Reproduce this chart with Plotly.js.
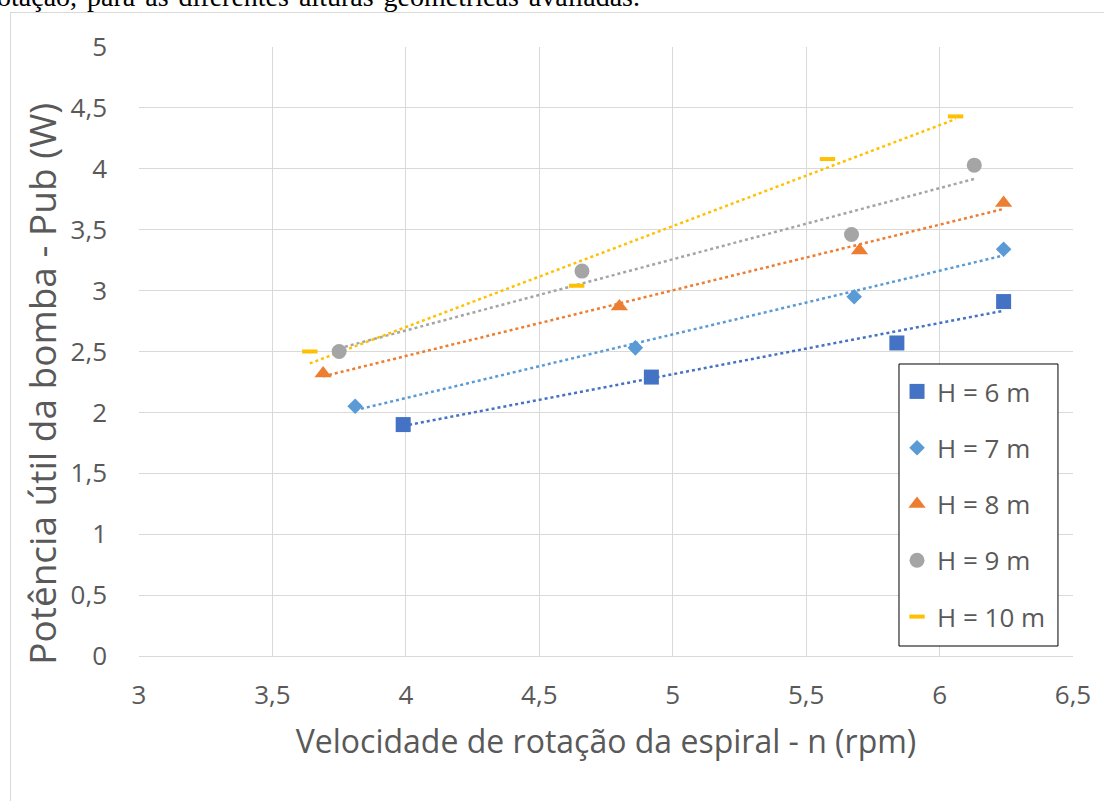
<!DOCTYPE html>
<html><head><meta charset="utf-8">
<script src="https://cdn.plot.ly/plotly-3.0.1.min.js"></script>
<style>
html,body{margin:0;padding:0;overflow:hidden;background:#fff;width:1104px;height:801px;}
#cap{position:absolute;left:0;top:0;width:1104px;height:12px;overflow:hidden;z-index:2;}
#frame{position:absolute;left:10px;top:12px;width:1100px;height:800px;border:1px solid #d9d9d9;}
#chart{width:1100px;height:800px;}
</style></head><body>
<div id="frame"><div id="chart"></div></div>
<svg id="cap" xmlns="http://www.w3.org/2000/svg" width="1104" height="12">
  <text id="capText" x="0" y="5.5" font-family="Liberation Serif, Times New Roman, serif" font-size="28" fill="#000"></text>
</svg>
<script>
const captionText = 'rotação, para as diferentes alturas geométricas avaliadas.';
const xTitle = 'Velocidade de rotação da espiral - n (rpm)';
const yTitle = 'Potência útil da bomba - Pub (W)';
const seriesNames = ['H = 6 m','H = 7 m','H = 8 m','H = 9 m','H = 10 m'];
const rpmH6  = [3.99, 4.92, 5.84, 6.24];
const pubH6  = [1.90, 2.29, 2.57, 2.91];
const rpmH7  = [3.81, 4.86, 5.68, 6.24];
const pubH7  = [2.05, 2.53, 2.95, 3.34];
const rpmH8  = [3.69, 4.80, 5.70, 6.24];
const pubH8  = [2.32, 2.87, 3.33, 3.72];
const rpmH9  = [3.75, 4.66, 5.67, 6.13];
const pubH9  = [2.50, 3.16, 3.46, 4.03];
const rpmH10 = [3.64, 4.64, 5.58, 6.06];
const pubH10 = [2.50, 3.04, 4.08, 4.43];
const xTicks = [3, 3.5, 4, 4.5, 5, 5.5, 6, 6.5];
const yTicks = [0, 0.5, 1, 1.5, 2, 2.5, 3, 3.5, 4, 4.5, 5];

// caption layout: leading "r" hidden off the left edge, justified word spacing
(function () {
  const t = document.getElementById('capText');
  t.textContent = captionText;
  const rW = t.getSubStringLength(0, 1);
  const x0 = -rW - 3;
  t.setAttribute('x', x0);
  const L = t.getComputedTextLength();
  const spaces = (captionText.match(/ /g) || []).length;
  const extra = Math.max(0, (640 - (x0 + L)) / spaces);
  t.style.wordSpacing = extra + 'px';
})();

const xs = [rpmH6, rpmH7, rpmH8, rpmH9, rpmH10];
const ys = [pubH6, pubH7, pubH8, pubH9, pubH10];
const colors = ['#4472C4', '#5B9BD5', '#ED7D31', '#A5A5A5', '#FFC000'];
const symbols = ['square', 'diamond', 'triangle-up', 'circle', 'line-ew'];
const sizes = [15, 12, 15, 15, 11];

function fit(x, y) {
  const n = x.length;
  const mx = x.reduce((a, b) => a + b, 0) / n;
  const my = y.reduce((a, b) => a + b, 0) / n;
  let sxy = 0, sxx = 0;
  for (let i = 0; i < n; i++) { sxy += (x[i] - mx) * (y[i] - my); sxx += (x[i] - mx) ** 2; }
  const b = sxy / sxx, a = my - b * mx;
  const x0 = Math.min(...x), x1 = Math.max(...x);
  return { x: [x0, x1], y: [a + b * x0, a + b * x1] };
}

const traces = [];
for (let i = 0; i < 5; i++) {
  const t = fit(xs[i], ys[i]);
  traces.push({
    x: t.x, y: t.y, mode: 'lines', type: 'scatter', showlegend: false, hoverinfo: 'skip',
    line: { color: colors[i], width: 2.5, dash: 'dot' }
  });
}
for (let i = 0; i < 5; i++) {
  const isLine = symbols[i] === 'line-ew';
  traces.push({
    x: xs[i], y: ys[i], mode: 'markers', type: 'scatter', name: seriesNames[i],
    legendgroup: 'g' + i,
    marker: {
      symbol: symbols[i], size: sizes[i], color: colors[i],
      line: isLine ? { color: colors[i], width: 4 } : { width: 0 }
    }
  });
}

const fontFam = '"Open Sans", "Noto Sans", sans-serif';
const layout = {
  width: 1100, height: 800,
  margin: { l: 128, r: 38, t: 34, b: 157 },
  paper_bgcolor: '#fff', plot_bgcolor: '#fff',
  separators: ', ',
  font: { family: fontFam, color: '#595959' },
  xaxis: {
    range: [3, 6.5], tickvals: xTicks, showgrid: true, gridcolor: '#d9d9d9', gridwidth: 1,
    zeroline: false, showline: true, linecolor: '#d9d9d9', ticks: '',
    tickfont: { size: 26, color: '#595959', family: fontFam }, ticklabelstandoff: 16,
    title: { text: xTitle, font: { size: 32, color: '#595959', family: fontFam }, standoff: 19 }
  },
  yaxis: {
    range: [0, 5], tickvals: yTicks, showgrid: true, gridcolor: '#d9d9d9', gridwidth: 1,
    zeroline: false, showline: false, ticks: '',
    tickfont: { size: 26, color: '#595959', family: fontFam }, ticklabelstandoff: 31
  },
  annotations: [{
    text: yTitle, textangle: -90, showarrow: false,
    xref: 'paper', yref: 'paper', x: -0.1038, y: 0.447, xanchor: 'center', yanchor: 'middle',
    font: { size: 37, color: '#595959', family: fontFam }
  }],
  shapes: [{
    type: 'rect', xref: 'paper', yref: 'paper', layer: 'above',
    x0: 0.8137, x1: 0.9839, y0: 0.0164, y1: 0.4795,
    line: { color: '#000', width: 1 }, fillcolor: '#fff'
  }],
  legend: {
    x: 0.8116, y: 0.4729, xanchor: 'left', yanchor: 'top',
    bgcolor: 'rgba(0,0,0,0)', borderwidth: 0,
    font: { size: 26, color: '#595959', family: fontFam },
    traceorder: 'grouped', tracegroupgap: 19.5
  },
  showlegend: true
};
Plotly.newPlot('chart', traces, layout, { displayModeBar: false, staticPlot: true });
</script>
</body></html>
